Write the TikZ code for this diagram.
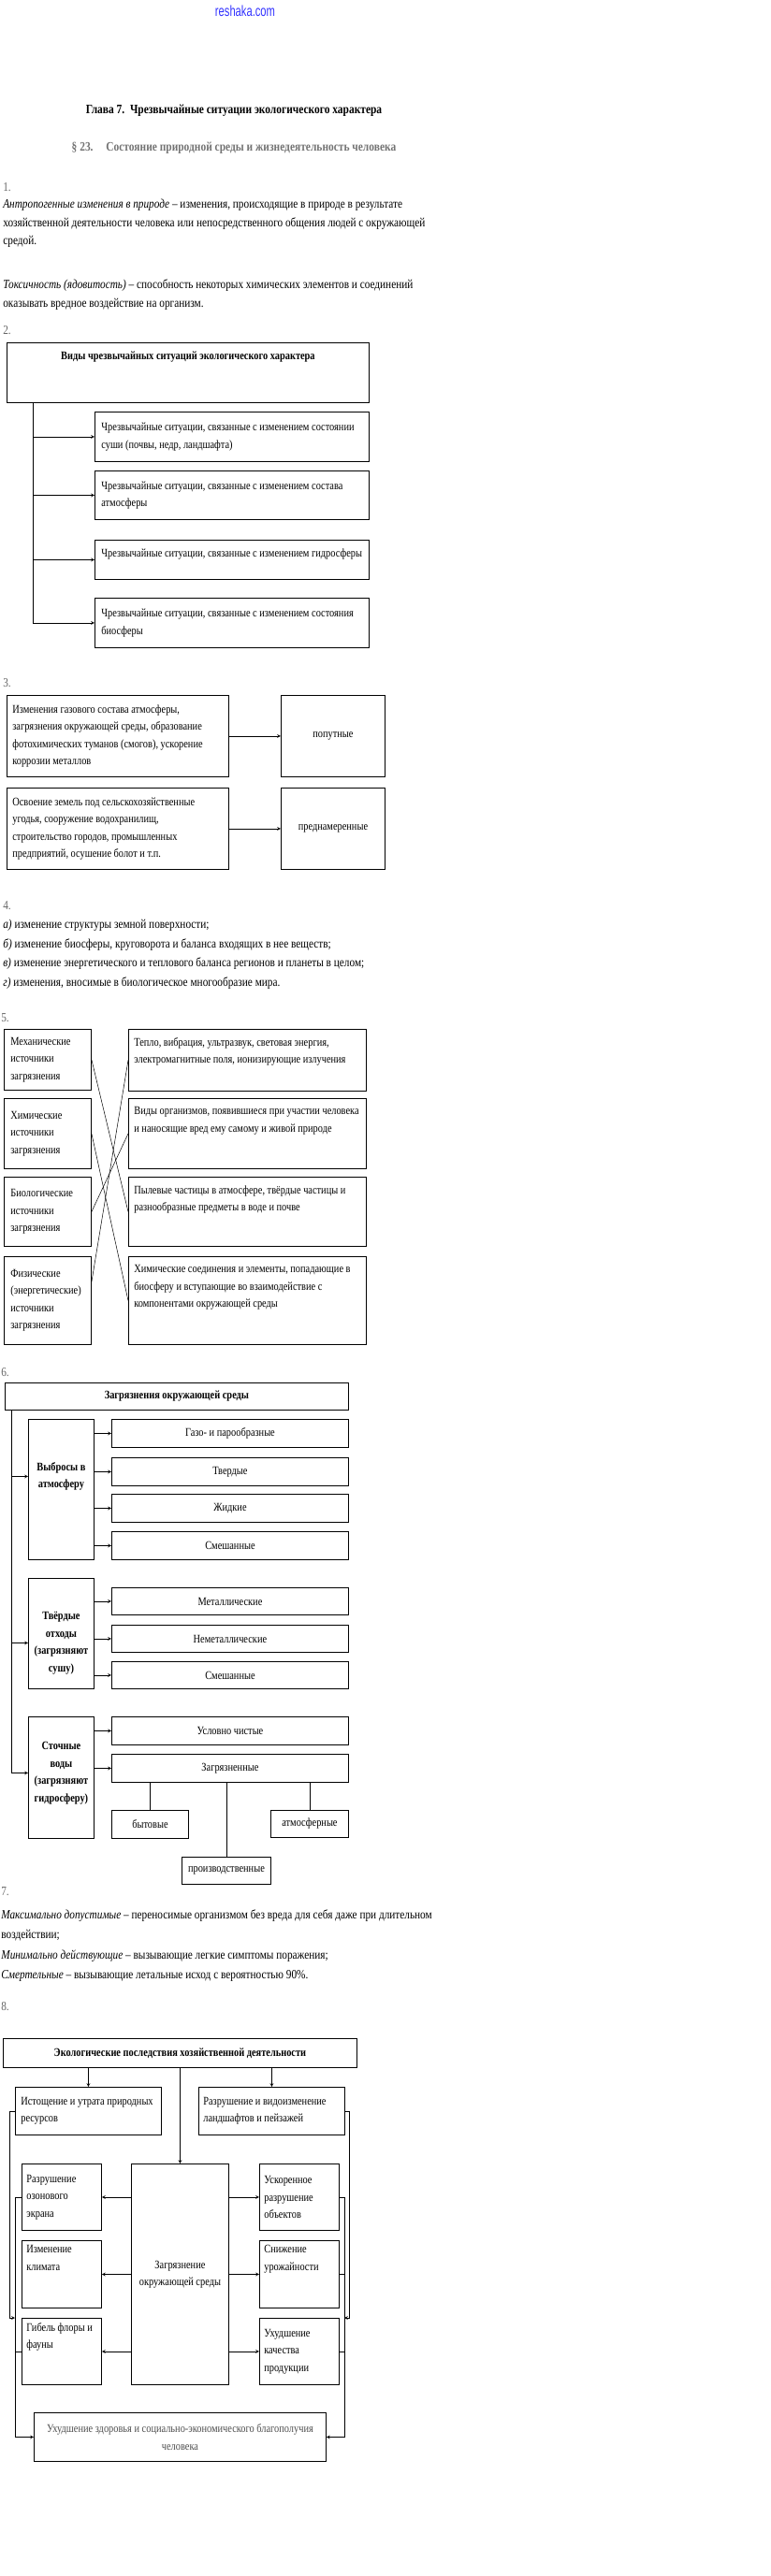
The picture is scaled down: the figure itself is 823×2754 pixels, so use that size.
\documentclass[tikz,border=0pt]{standalone}
\usepackage{fontspec}
\setmainfont{Liberation Serif}[FakeStretch=0.83]
\newfontfamily\sitefont{Liberation Sans}[FakeStretch=0.7]
\usetikzlibrary{positioning}

\newcommand\bodyfont{\fontsize{12.5}{18.5}\selectfont}
\newcommand\parfont{\fontsize{13.6}{19.5}\selectfont}
\newcommand\headfont{\bfseries\fontsize{12.5}{18.5}\selectfont}

\tikzset{
  box/.style={draw, line width=0.9pt, inner sep=0pt, anchor=north west, font=\bodyfont, align=center},
  hbox/.style={box, font=\headfont},
  txt/.style={inner sep=0pt, font=\bodyfont, align=left},
  ptxt/.style={inner sep=0pt, font=\parfont, align=left, anchor=west},
  btxt/.style={inner sep=0pt, font=\headfont, align=center},
  num/.style={inner sep=0pt, font=\parfont, text=black!60, anchor=west},
  wire/.style={line width=0.5pt},
}

\begin{document}
\begin{tikzpicture}[x=1pt, y=-1pt, >=stealth, line width=0.7pt]
\useasboundingbox (0,0) rectangle (823,2754);

% header
\node[font=\sitefont\fontsize{16}{16}\selectfont, text=blue!80] (site) at (262,12) {reshaka.com};
\node[font=\bfseries\fontsize{13.8}{14}\selectfont] (glava) at (250,118) {Глава 7.\ \ Чрезвычайные ситуации экологического характера};
\node[font=\bfseries\fontsize{13.8}{14}\selectfont, text=black!55] (par) at (250,158) {§ 23.\quad Состояние природной среды и жизнедеятельность человека};

% 1
\node[num] (n1) at (3,200) {1.};
\node[ptxt] (antr) at (3,239) {\textit{Антропогенные изменения в природе} – изменения, происходящие в природе в результате\\хозяйственной деятельности человека или непосредственного общения людей с окружающей\\средой.};
\node[ptxt, font=\fontsize{13.6}{20}\selectfont] (tox) at (3,315) {\textit{Токсичность (ядовитость)} – способность некоторых химических элементов и соединений\\оказывать вредное воздействие на организм.};

% 2
\node[num] (n2) at (3,353) {2.};
\node[hbox, minimum width=387pt, minimum height=64pt] (vidy) at (7,366) {};
\node[btxt] (vidyt) at ([yshift=-16pt]vidy.north) {Виды чрезвычайных ситуаций экологического характера};
\node[box, minimum width=293pt, minimum height=53pt] (sushi) at (101,440) {};
\node[box, minimum width=293pt, minimum height=52pt] (atmo) at (101,503) {};
\node[box, minimum width=293pt, minimum height=42pt] (gidro) at (101,577) {};
\node[box, minimum width=293pt, minimum height=53pt] (bio) at (101,639) {};
\node[txt, anchor=west] (sushit) at ([xshift=7pt]sushi.west) {Чрезвычайные ситуации, связанные с изменением состоянии\\суши (почвы, недр, ландшафта)};
\node[txt, anchor=west] (atmot) at ([xshift=7pt]atmo.west) {Чрезвычайные ситуации, связанные с изменением состава\\атмосферы};
\node[txt, anchor=west] (gidrot) at ([xshift=7pt,yshift=6pt]gidro.west) {Чрезвычайные ситуации, связанные с изменением гидросферы};
\node[txt, anchor=west] (biot) at ([xshift=7pt]bio.west) {Чрезвычайные ситуации, связанные с изменением состояния\\биосферы};
\coordinate (trunk) at ([xshift=28pt]vidy.south west);
\draw[->] (trunk) |- (bio.west);
\foreach \b in {sushi,atmo,gidro}
  \draw[->] (trunk |- \b.west) -- (\b.west);

% 3
\node[num] (n3) at (3,730) {3.};
\node[box, minimum width=237pt, minimum height=87pt] (gaz) at (7,743) {};
\node[txt, anchor=west] (gazt) at ([xshift=6pt]gaz.west) {Изменения газового состава атмосферы,\\загрязнения окружающей среды, образование\\фотохимических туманов (смогов), ускорение\\коррозии металлов};
\node[box, minimum width=111pt, minimum height=87pt] (pop) at (300,743) {попутные};
\node[box, minimum width=237pt, minimum height=87pt] (osv) at (7,842) {};
\node[txt, anchor=west] (osvt) at ([xshift=6pt]osv.west) {Освоение земель под сельскохозяйственные\\угодья, сооружение водохранилищ,\\строительство городов, промышленных\\предприятий, осушение болот и т.п.};
\node[box, minimum width=111pt, minimum height=87pt] (pred) at (300,842) {преднамеренные};
\draw[->] (gaz) -- (pop);
\draw[->] (osv) -- (pred);

% 4
\node[num] (n4) at (3,968) {4.};
\node[ptxt, font=\fontsize{13.6}{20.5}\selectfont] (izm) at (3,1020) {\textit{а)} изменение структуры земной поверхности;\\\textit{б)} изменение биосферы, круговорота и баланса входящих в нее веществ;\\\textit{в)} изменение энергетического и теплового баланса регионов и планеты в целом;\\\textit{г)} изменения, вносимые в биологическое многообразие мира.};

% 5
\node[num] (n5) at (1,1088) {5.};
\node[box, minimum width=93pt, minimum height=65pt] (mech) at (4,1100) {};
\node[box, minimum width=93pt, minimum height=75pt] (chem) at (4,1174) {};
\node[box, minimum width=93pt, minimum height=74pt] (biol) at (4,1258) {};
\node[box, minimum width=93pt, minimum height=94pt] (phys) at (4,1343) {};
\node[txt, anchor=west] (mecht) at ([xshift=7pt]mech.west) {Механические\\источники\\загрязнения};
\node[txt, anchor=west] (chemt) at ([xshift=7pt]chem.west) {Химические\\источники\\загрязнения};
\node[txt, anchor=west] (biolt) at ([xshift=7pt]biol.west) {Биологические\\источники\\загрязнения};
\node[txt, anchor=west] (physt) at ([xshift=7pt]phys.west) {Физические\\(энергетические)\\источники\\загрязнения};
\node[box, minimum width=254pt, minimum height=66pt] (rheat) at (137,1100) {};
\node[box, minimum width=254pt, minimum height=75pt] (rorg) at (137,1174) {};
\node[box, minimum width=254pt, minimum height=74pt] (rdust) at (137,1258) {};
\node[box, minimum width=254pt, minimum height=94pt] (rchem) at (137,1343) {};
\node[txt, anchor=north west] (rheatt) at ([xshift=6pt,yshift=-9pt]rheat.north west) {Тепло, вибрация, ультразвук, световая энергия,\\электромагнитные поля, ионизирующие излучения};
\node[txt, anchor=north west] (rorgt) at ([xshift=6pt,yshift=-9pt]rorg.north west) {Виды организмов, появившиеся при участии человека\\и наносящие вред ему самому и живой природе};
\node[txt, anchor=north west] (rdustt) at ([xshift=6pt,yshift=-9pt]rdust.north west) {Пылевые частицы в атмосфере, твёрдые частицы и\\разнообразные предметы в воде и почве};
\node[txt, anchor=north west] (rchemt) at ([xshift=6pt,yshift=-9pt]rchem.north west) {Химические соединения и элементы, попадающие в\\биосферу и вступающие во взаимодействие с\\компонентами окружающей среды};
\draw[wire] (mech.east) -- (rdust.west);
\draw[wire] (chem.east) -- (rchem.west);
\draw[wire] (biol.east) -- (rorg.west);
\draw[wire] ([yshift=20pt]phys.east) -- (rheat.west);

% 6
\node[num] (n6) at (1,1467) {6.};
\node[hbox, minimum width=367pt, minimum height=29pt] (zagr6) at (5,1478) {Загрязнения окружающей среды};
\node[box, minimum width=70pt, minimum height=150pt] (vyb) at (30,1517) {};
\node[box, minimum width=70pt, minimum height=118pt] (tvo) at (30,1687) {};
\node[box, minimum width=70pt, minimum height=130pt] (stv) at (30,1835) {};
\node[btxt] (vybt) at ([yshift=14pt]vyb.center) {Выбросы в\\атмосферу};
\node[btxt] (tvot) at ([yshift=-10pt]tvo.center) {Твёрдые\\отходы\\(загрязняют\\сушу)};
\node[btxt] (stvt) at ([yshift=5pt]stv.center) {Сточные\\воды\\(загрязняют\\гидросферу)};
\coordinate (trunk6) at ([xshift=7pt]zagr6.south west);
\draw[->] (trunk6) |- (stvt -| stv.west);
\draw[->] (trunk6 |- vybt) -- (vybt -| vyb.west);
\draw[->] (trunk6 |- tvot) -- (tvot -| tvo.west);
\node[box, minimum width=253pt, minimum height=30pt] (gaso) at (119,1517) {Газо- и парообразные};
\node[box, minimum width=253pt, minimum height=30pt] (tverd) at (119,1558) {Твердые};
\node[box, minimum width=253pt, minimum height=30pt] (zhid) at (119,1597) {Жидкие};
\node[box, minimum width=253pt, minimum height=30pt] (smesh) at (119,1637) {Смешанные};
\node[box, minimum width=253pt, minimum height=29pt] (metal) at (119,1697) {Металлические};
\node[box, minimum width=253pt, minimum height=29pt] (nemet) at (119,1737) {Неметаллические};
\node[box, minimum width=253pt, minimum height=29pt] (smesht) at (119,1776) {Смешанные};
\node[box, minimum width=253pt, minimum height=30pt] (uslov) at (119,1835) {Условно чистые};
\node[box, minimum width=253pt, minimum height=30pt] (zagrz) at (119,1875) {Загрязненные};
\foreach \c in {gaso,tverd,zhid,smesh}
  \draw[->] (vyb.east |- \c.west) -- (\c.west);
\foreach \c in {metal,nemet,smesht}
  \draw[->] (tvo.east |- \c.west) -- (\c.west);
\foreach \c in {uslov,zagrz}
  \draw[->] (stv.east |- \c.west) -- (\c.west);
\node[box, minimum width=82pt, minimum height=30pt] (byt) at (119,1935) {бытовые};
\node[box, minimum width=83pt, minimum height=29pt] (atmz) at (289,1935) {атмосферные};
\node[box, minimum width=95pt, minimum height=29pt] (proiz) at (194,1985) {производственные};
\draw[wire] (byt.north) -- (byt.north |- zagrz.south);
\draw[wire] (atmz.north) -- (atmz.north |- zagrz.south);
\draw[wire] (proiz.north) -- (proiz.north |- zagrz.south);

% 7
\node[num] (n7) at (1,2022) {7.};
\node[ptxt, font=\fontsize{13.6}{21.5}\selectfont] (pdk) at (1,2080) {\textit{Максимально допустимые} – переносимые организмом без вреда для себя даже при длительном\\воздействии;\\\textit{Минимально действующие} – вызывающие легкие симптомы поражения;\\\textit{Смертельные} – вызывающие летальные исход с вероятностью 90\%.};

% 8
\node[num] (n8) at (1,2145) {8.};
\node[hbox, minimum width=378pt, minimum height=31pt] (posl) at (3,2179) {Экологические последствия хозяйственной деятельности};
\node[box, minimum width=156pt, minimum height=51pt] (istch) at (16,2231) {};
\node[box, minimum width=156pt, minimum height=51pt] (razr) at (212,2231) {};
\node[txt, anchor=west] (istcht) at ([xshift=6pt]istch.west) {Истощение и утрата природных\\ресурсов};
\node[txt, anchor=west] (razrt) at ([xshift=5pt]razr.west) {Разрушение и видоизменение\\ландшафтов и пейзажей};
\node[box, minimum width=104pt, minimum height=236pt] (zagrs) at (140,2313) {Загрязнение\\окружающей среды};
\draw[->] (istch.north |- posl.south) -- (istch.north);
\draw[->] (razr.north |- posl.south) -- (razr.north);
\draw[->] (posl.south) -- (zagrs.north);
\node[box, minimum width=85pt, minimum height=71pt] (ozon) at (23,2313) {};
\node[box, minimum width=85pt, minimum height=72pt] (klim) at (23,2395) {};
\node[box, minimum width=85pt, minimum height=71pt] (flora) at (23,2478) {};
\node[box, minimum width=85pt, minimum height=71pt] (obj) at (277,2313) {};
\node[box, minimum width=85pt, minimum height=72pt] (urozh) at (277,2395) {};
\node[box, minimum width=85pt, minimum height=71pt] (prod) at (277,2478) {};
\node[txt, anchor=west] (ozont) at ([xshift=5pt]ozon.west) {Разрушение\\озонового\\экрана};
\node[txt, anchor=north west] (klimt) at ([xshift=5pt,yshift=-5pt]klim.north west) {Изменение\\климата};
\node[txt, anchor=north west] (florat) at ([xshift=5pt,yshift=-5pt]flora.north west) {Гибель флоры и\\фауны};
\node[txt, anchor=west] (objt) at ([xshift=5pt]obj.west) {Ускоренное\\разрушение\\объектов};
\node[txt, anchor=north west] (urozht) at ([xshift=5pt,yshift=-5pt]urozh.north west) {Снижение\\урожайности};
\node[txt, anchor=west] (prodt) at ([xshift=5pt]prod.west) {Ухудшение\\качества\\продукции};
\foreach \l in {ozon,klim,flora}
  \draw[->] (zagrs.west |- \l.east) -- (\l.east);
\foreach \r in {obj,urozh,prod}
  \draw[->] (zagrs.east |- \r.west) -- (\r.west);
\node[box, minimum width=312pt, minimum height=52pt, text=black!70] (zdor) at (36,2579) {Ухудшение здоровья и социально-экономического благополучия\\человека};
\coordinate (lout) at (10,2478);
\coordinate (lin) at (16,2478);
\coordinate (rout) at (373,2478);
\coordinate (rin) at (368,2478);
\draw[->] (istch.west) -| (lout) -- (lin);
\draw[->] (razr.east) -| (rout) -- (rin);
\draw[->] (ozon.west) -- (ozon.west -| lin) |- (zdor.west);
\draw (flora.west) -- (flora.west -| lin);
\draw[->] (obj.east) -- (obj.east -| rin) |- (zdor.east);
\draw (urozh.east) -- (urozh.east -| rin);
\draw (prod.east) -- (prod.east -| rin);
\end{tikzpicture}
\end{document}
